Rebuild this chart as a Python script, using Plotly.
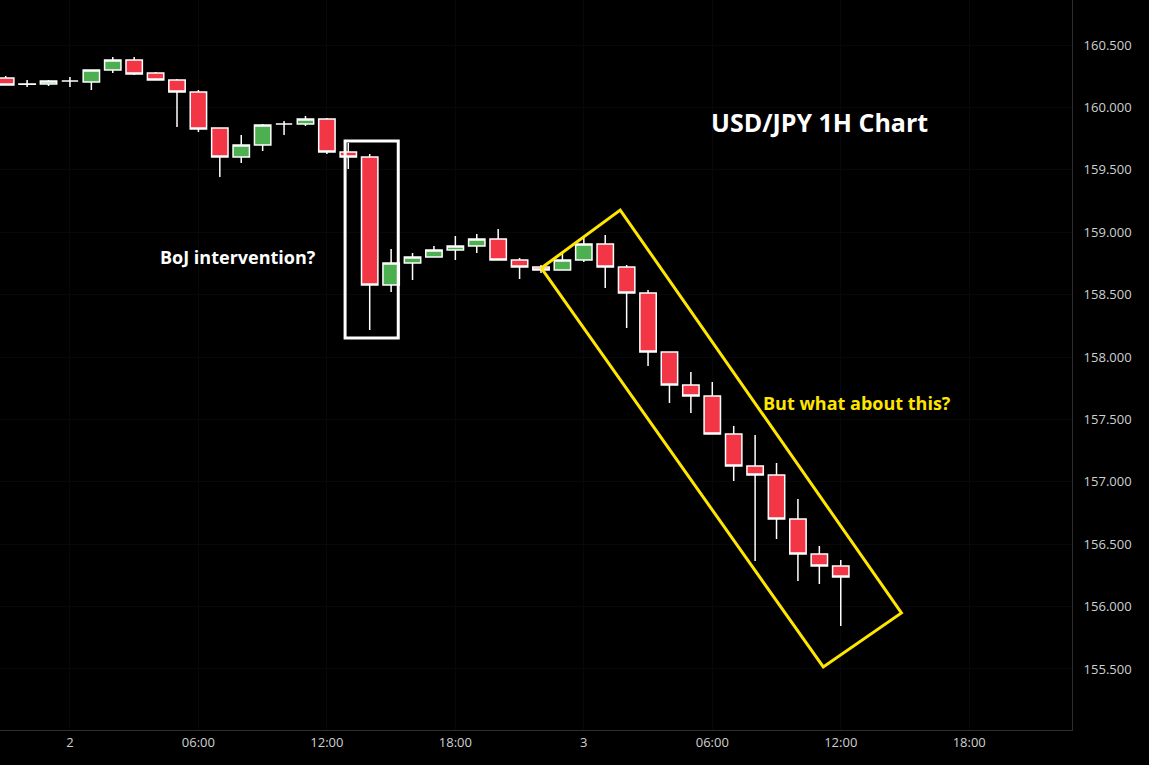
import plotly.graph_objects as go
import pandas as pd

times = pd.date_range("2024-05-01 21:00", periods=40, freq="h")
opens  = [160.236,160.188,160.187,160.212,160.204,160.300,160.380,160.276,160.220,160.123,
          159.835,159.603,159.699,159.867,159.867,159.907,159.643,159.603,158.577,158.753,
          158.801,158.857,158.889,158.945,158.777,158.721,158.697,158.777,158.905,158.721,
          158.513,158.040,157.776,157.687,157.383,157.127,157.054,156.702,156.421,156.325]
highs  = [160.252,160.220,160.220,160.244,160.300,160.404,160.404,160.284,160.228,160.139,
          159.835,159.779,159.867,159.891,159.931,159.915,159.715,159.627,158.865,158.833,
          158.889,158.970,158.986,159.026,158.793,158.737,158.833,158.953,158.978,158.737,
          158.537,158.040,157.880,157.800,157.447,157.375,157.151,156.862,156.485,156.373]
lows   = [160.179,160.163,160.171,160.163,160.139,160.276,160.260,160.220,159.843,159.803,
          159.442,159.554,159.651,159.779,159.851,159.627,159.506,158.216,158.521,158.617,
          158.801,158.777,158.833,158.777,158.625,158.673,158.697,158.761,158.553,158.232,
          157.928,157.631,157.551,157.383,157.006,156.365,156.542,156.205,156.181,155.845]
closes = [160.179,160.186,160.212,160.212,160.300,160.380,160.268,160.220,160.123,159.827,
          159.603,159.699,159.859,159.867,159.907,159.643,159.603,158.577,158.753,158.801,
          158.857,158.889,158.945,158.777,158.721,158.697,158.777,158.905,158.721,158.513,
          158.040,157.776,157.687,157.383,157.127,157.054,156.702,156.421,156.325,156.237]

tick_vals = ["2024-05-02 00:00","2024-05-02 06:00","2024-05-02 12:00","2024-05-02 18:00",
             "2024-05-03 00:00","2024-05-03 06:00","2024-05-03 12:00","2024-05-03 18:00"]
tick_text = ["2","06:00","12:00","18:00","3","06:00","12:00","18:00"]
price_ticks = [155.5,156.0,156.5,157.0,157.5,158.0,158.5,159.0,159.5,160.0,160.5]

box_x = ["2024-05-02 12:51","2024-05-02 15:20"]
box_y = [158.152,159.731]
chan_x = ["2024-05-02 22:01","2024-05-03 01:42","2024-05-03 14:50","2024-05-03 11:11","2024-05-02 22:01"]
chan_y = [158.713,159.178,155.949,155.516,158.713]

fig = go.Figure()
fig.add_trace(go.Candlestick(
    x=times, open=opens, high=highs, low=lows, close=closes,
    increasing=dict(fillcolor="#4CAF50", line=dict(color="white", width=1.5)),
    decreasing=dict(fillcolor="#F23645", line=dict(color="white", width=1.5)),
    whiskerwidth=0, showlegend=False, hoverinfo="skip"))
fig.add_trace(go.Scatter(x=chan_x, y=chan_y, mode="lines",
    line=dict(color="#FFE600", width=3), showlegend=False, hoverinfo="skip"))

fig.add_shape(type="rect", x0=box_x[0], x1=box_x[1], y0=box_y[0], y1=box_y[1],
              line=dict(color="white", width=3))

fig.add_annotation(x="2024-05-03 11:00", y=159.88, text="<b>USD/JPY 1H Chart</b>",
                   showarrow=False, font=dict(family="Open Sans", size=25, color="white"))
fig.add_annotation(x="2024-05-02 07:50", y=158.80, text="<b>BoJ intervention?</b>",
                   showarrow=False, font=dict(family="Open Sans", size=18, color="white"))
fig.add_annotation(x="2024-05-03 12:45", y=157.63, text="<b>But what about this?</b>",
                   showarrow=False, font=dict(family="Open Sans", size=18, color="#FFE600"))

fig.update_layout(
    width=1149, height=765, margin=dict(l=0, r=77, t=0, b=35),
    paper_bgcolor="black", plot_bgcolor="black", boxgap=0.1, boxgroupgap=0.15,
    font=dict(family="Open Sans", color="#D0D0D0", size=13),
    xaxis=dict(range=["2024-05-01 20:44","2024-05-03 22:48"], rangeslider=dict(visible=False),
               tickvals=tick_vals, ticktext=tick_text, showgrid=True, gridcolor="#080808",
               showline=True, linecolor="#2e2e2e", linewidth=1, zeroline=False, ticks="",
               mirror=False),
    yaxis=dict(range=[155.011, 160.861], side="right", tickvals=price_ticks, tickformat=".3f",
               showgrid=True, gridcolor="#080808", showline=True, linecolor="#2e2e2e",
               linewidth=1, zeroline=False, ticks="", ticklabelstandoff=8),
)
fig.write_html("out.html", config={"displayModeBar": False},
               post_script="document.body.style.margin='0';document.body.style.background='black';")
